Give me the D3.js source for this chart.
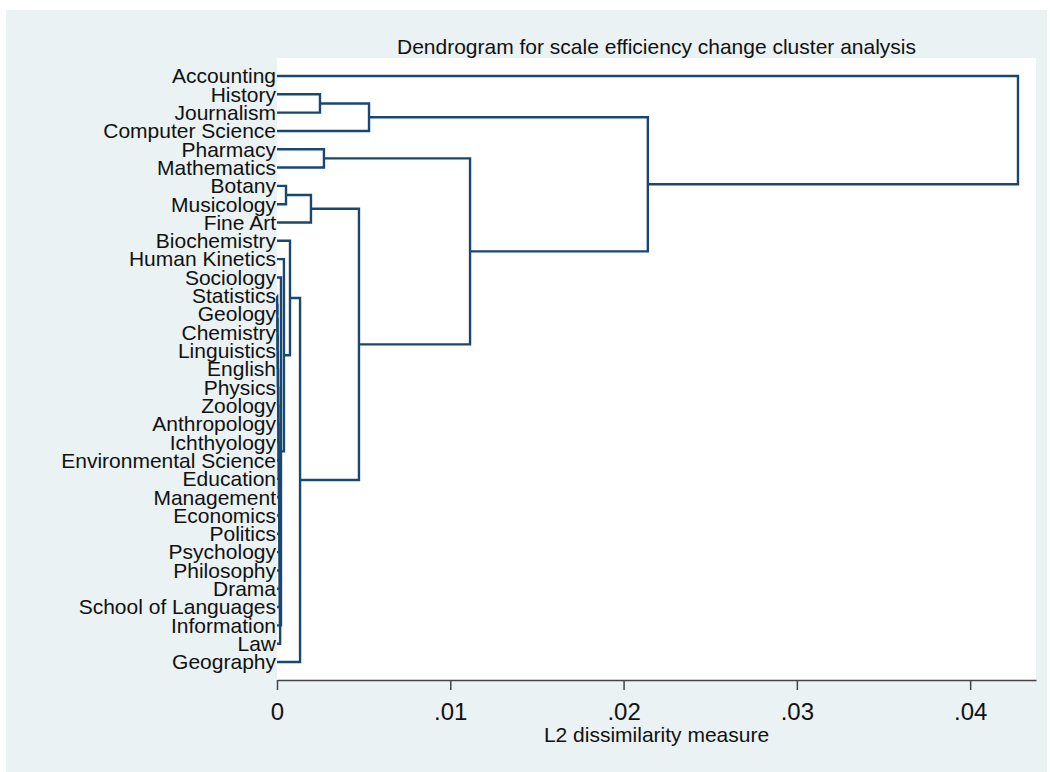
<!DOCTYPE html>
<html>
<head>
<meta charset="utf-8">
<script src="https://cdn.jsdelivr.net/npm/d3@7"></script>
<style>
  body { margin: 0; background: #fff; }
  text { font-family: "Liberation Sans", Arial, sans-serif; }
</style>
</head>
<body>
<div id="chart"></div>
<script>
// leaf labels, top to bottom as drawn
var leaves = ["Accounting", "History", "Journalism", "Computer Science", "Pharmacy",
  "Mathematics", "Botany", "Musicology", "Fine Art", "Biochemistry", "Human Kinetics",
  "Sociology", "Statistics", "Geology", "Chemistry", "Linguistics", "English", "Physics",
  "Zoology", "Anthropology", "Ichthyology", "Environmental Science", "Education",
  "Management", "Economics", "Politics", "Psychology", "Philosophy", "Drama",
  "School of Languages", "Information", "Law", "Geography"];

// merges: ids < 33 are leaves, merge i creates id 33 + i
var mergeA = [12, 33, 34, 35, 36, 37, 38, 39, 40, 41, 42, 43, 44, 45, 46, 47, 48, 49, 50,
  11, 10, 9, 54, 6, 56, 57, 4, 59, 1, 61, 62, 0];
var mergeB = [13, 14, 15, 16, 17, 18, 19, 20, 21, 22, 23, 24, 25, 26, 27, 28, 29, 30, 31,
  51, 52, 53, 32, 7, 8, 55, 5, 58, 2, 3, 60, 63];
var mergeHeight = [0.00001, 0.00002, 0.00003, 0.00004, 0.00005, 0.00006, 0.00007, 0.00008,
  0.00009, 0.0001, 0.00011, 0.00012, 0.00013, 0.00014, 0.00015, 0.00016, 0.00016, 0.00017,
  0.00018, 0.00023, 0.0004, 0.00075, 0.00133, 0.00052, 0.00196, 0.00473, 0.00271, 0.01114,
  0.00248, 0.00531, 0.0214, 0.04276];

var xTicks = [0, 0.01, 0.02, 0.03, 0.04];
var xTickLabels = ["0", ".01", ".02", ".03", ".04"];

var title = "Dendrogram for scale efficiency change cluster analysis";
var xTitle = "L2 dissimilarity measure";

var W = 1050, H = 772;
var plot = {left: 277, right: 1036, top: 58, bottom: 680};
var lineColor = "#1a476f";

var svg = d3.select("#chart").append("svg")
  .attr("width", W)
  .attr("height", H);

// background panels
svg.append("rect").attr("x", 6).attr("y", 10).attr("width", 1041).attr("height", H - 10)
  .attr("fill", "#eaf2f3");
svg.append("rect").attr("x", plot.left).attr("y", plot.top)
  .attr("width", plot.right - plot.left).attr("height", plot.bottom - plot.top)
  .attr("fill", "#fff");

// build the tree from the merge list
var nodes = leaves.map(function(d) { return {name: d, h: 0}; });
mergeA.forEach(function(a, i) {
  nodes.push({name: "m" + i, h: mergeHeight[i], children: [nodes[a], nodes[mergeB[i]]]});
});
var root = d3.hierarchy(nodes[nodes.length - 1]);

// scales
var x = d3.scaleLinear()
  .domain([0, 0.0438])
  .range([plot.left, plot.right]);

var y = d3.scalePoint()
  .domain(leaves)
  .range([76, 662]);

// leaf y from the point scale, branch y at the middle of its two children
root.eachAfter(function(n) {
  if (!n.children) n.py = y(n.data.name);
  else n.py = d3.mean(n.children, function(c) { return c.py; });
});

// links
var branches = root.descendants().filter(function(n) { return n.children; });
svg.append("g").selectAll("path")
  .data(branches)
  .enter()
  .append("path")
  .attr("d", function(n) {
    var a = n.children[0], b = n.children[1];
    return "M" + x(a.data.h) + "," + a.py +
      "H" + x(n.data.h) +
      "V" + b.py +
      "H" + x(b.data.h);
  })
  .attr("fill", "none")
  .attr("stroke", lineColor)
  .attr("stroke-width", 2.4);

// leaf labels
svg.append("g").selectAll("text")
  .data(leaves)
  .enter()
  .append("text")
  .attr("x", plot.left - 1)
  .attr("y", function(d) { return y(d); })
  .attr("dy", "0.35em")
  .attr("text-anchor", "end")
  .attr("font-size", 21)
  .attr("fill", "#111")
  .text(function(d) { return d; });

// x axis
var axis = svg.append("g")
  .attr("transform", "translate(0," + plot.bottom + ")")
  .call(d3.axisBottom(x)
    .tickValues(xTicks)
    .tickFormat(function(d, i) { return xTickLabels[i]; })
    .tickSize(10)
    .tickSizeOuter(0)
    .tickPadding(13));
axis.select(".domain").attr("stroke", "#444").attr("stroke-width", 1.5);
axis.selectAll(".tick line").attr("stroke", "#444").attr("stroke-width", 1.5);
axis.selectAll(".tick text")
  .attr("font-family", "Liberation Sans, Arial, sans-serif")
  .attr("font-size", 24)
  .attr("fill", "#111");

// titles
svg.append("text")
  .attr("x", (plot.left + plot.right) / 2)
  .attr("y", 742)
  .attr("text-anchor", "middle")
  .attr("font-size", 21)
  .attr("fill", "#111")
  .text(xTitle);

svg.append("text")
  .attr("x", (plot.left + plot.right) / 2)
  .attr("y", 54)
  .attr("text-anchor", "middle")
  .attr("font-size", 21)
  .attr("fill", "#111")
  .text(title);
</script>
</body>
</html>
